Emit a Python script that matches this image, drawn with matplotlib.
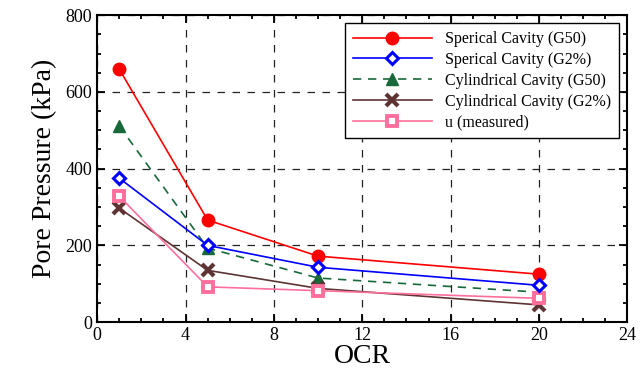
import matplotlib
matplotlib.use("Agg")
import matplotlib.pyplot as plt
from matplotlib.ticker import MultipleLocator

plt.rcParams['font.family'] = ['Liberation Serif', 'DejaVu Serif']

# data
ocr = [1, 5, 10, 20]
sph_g50 = [659, 266, 172, 125]
sph_g2 = [375, 200, 143, 96]
cyl_g50 = [511, 193, 115, 78]
cyl_g2 = [297, 135, 88, 45]
u_meas = [328, 92, 82, 62]

fig = plt.figure(figsize=(6.44, 3.79), dpi=100)
ax = fig.add_axes([0.151, 0.150, 0.823, 0.810])

ax.plot(ocr, sph_g50, color='#ff0000', lw=1.2, marker='o', ms=9,
        label='Sperical Cavity (G50)', zorder=5)
ax.plot(ocr, sph_g2, color='#0000ff', lw=1.2, marker='D', ms=6.5, mfc='white',
        mew=2.2, label='Sperical Cavity (G2%)', zorder=5)
ax.plot(ocr, cyl_g50, color='#17693a', lw=1.2, ls=(0, (5, 4)), marker='^', ms=8,
        mfc='#17693a', label='Cylindrical Cavity (G50)', zorder=4)
ax.plot(ocr, cyl_g2, color='#5e3333', lw=1.2, marker='x', ms=9, mew=3,
        label='Cylindrical Cavity (G2%)', zorder=4)
ax.plot(ocr, u_meas, color='#ff6f9c', lw=1.2, marker='s', ms=6.5, mfc='white',
        mew=2.8, label='u (measured)', zorder=4)

ax.set_xlim(0, 24)
ax.set_ylim(0, 800)
ax.xaxis.set_major_locator(MultipleLocator(4))
ax.xaxis.set_minor_locator(MultipleLocator(1))
ax.yaxis.set_major_locator(MultipleLocator(200))
ax.yaxis.set_minor_locator(MultipleLocator(50))
ax.tick_params(which='both', direction='in', top=True, right=True, width=1.3,
               labelsize=13)
ax.tick_params(which='major', length=6)
ax.tick_params(which='minor', length=3)
for s in ax.spines.values():
    s.set_linewidth(1.5)

ax.grid(True, which='major', color='#222222', ls=(0, (6, 6)), lw=0.9)

ax.set_xlabel('OCR', fontsize=20, labelpad=0)
ax.set_ylabel('Pore Pressure (kPa)', fontsize=20, labelpad=6)

leg = ax.legend(loc='upper right', fontsize=11.5, frameon=True, fancybox=False,
                edgecolor='black', framealpha=1, handlelength=5,
                borderaxespad=0.5, labelspacing=0.3, borderpad=0.5)
leg.get_frame().set_linewidth(1.0)

fig.savefig('out.png', dpi=100)
